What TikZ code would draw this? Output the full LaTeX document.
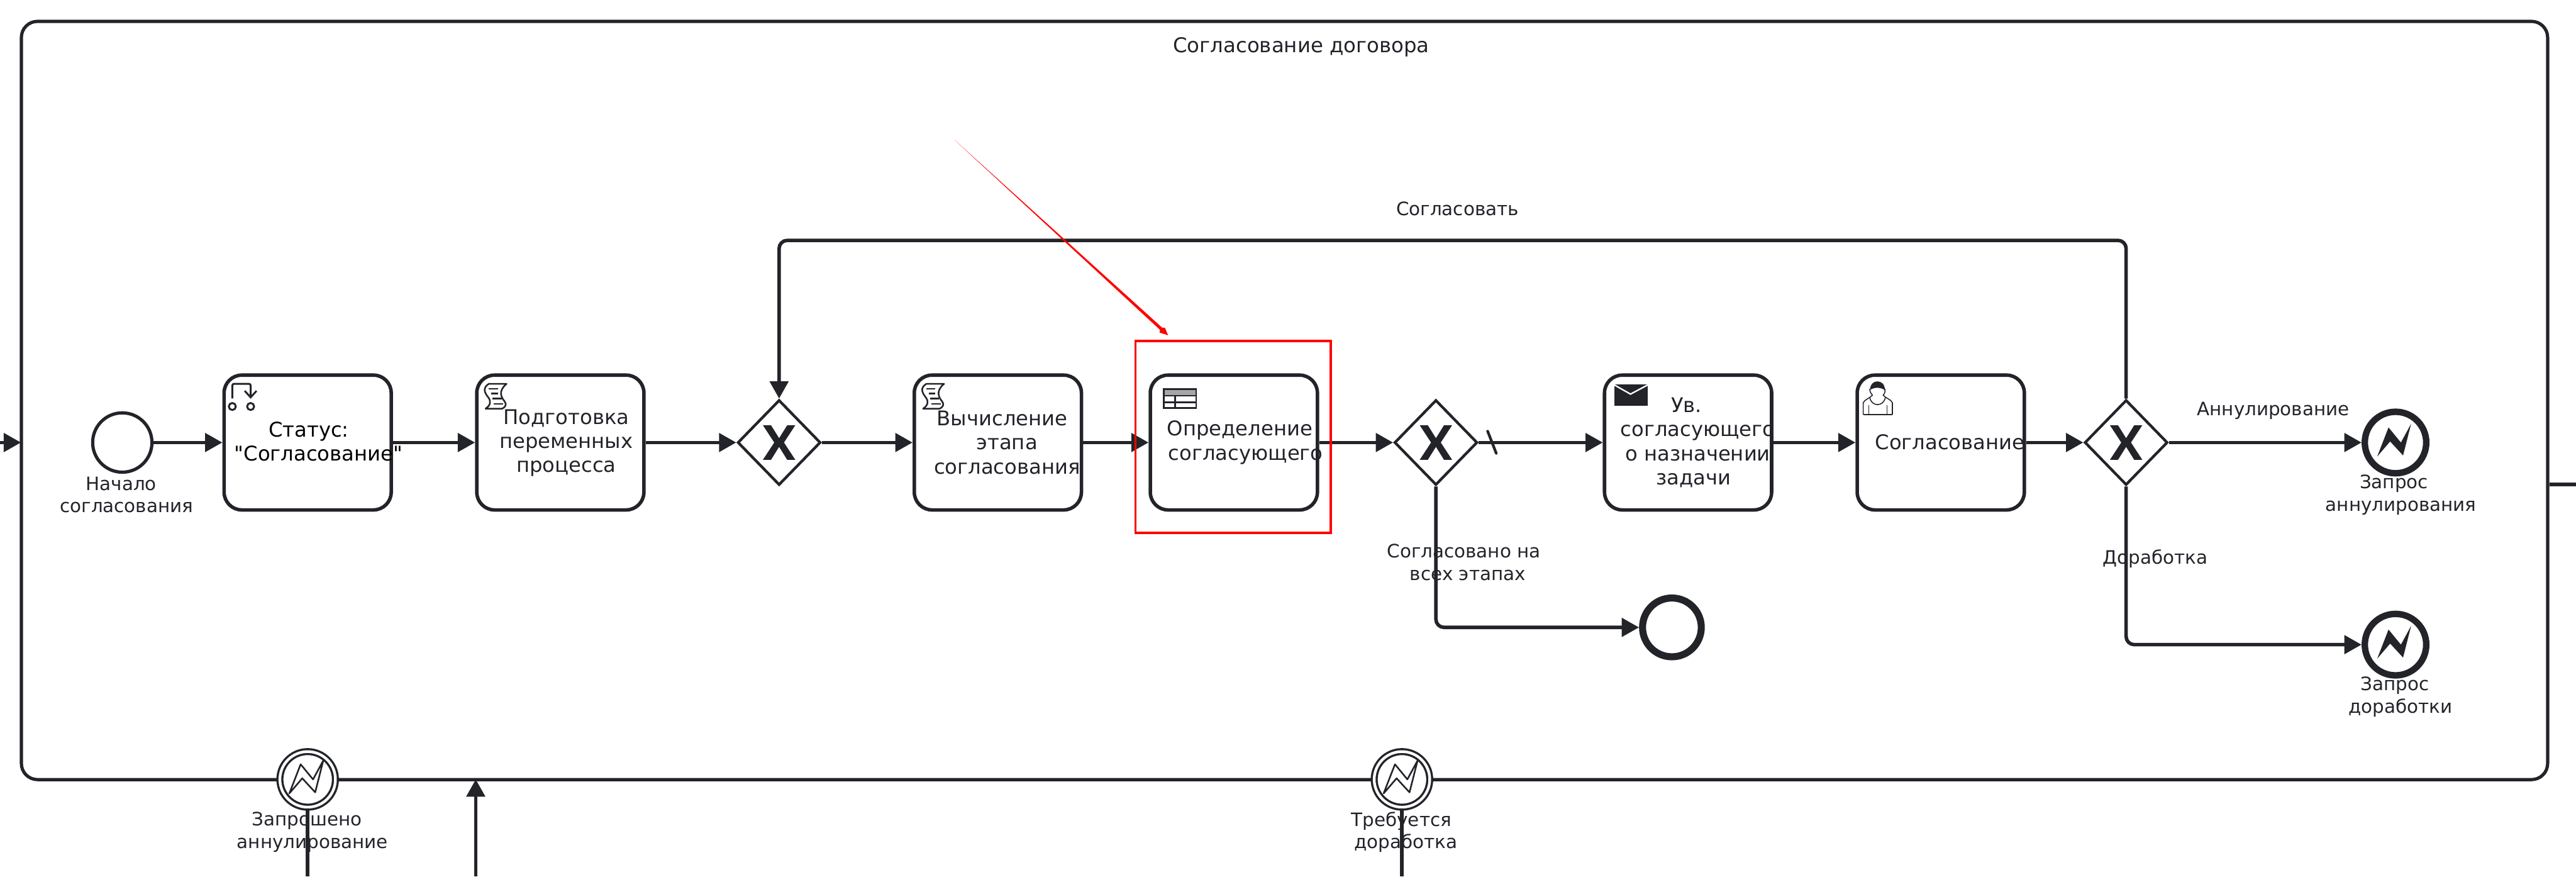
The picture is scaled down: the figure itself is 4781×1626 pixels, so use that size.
\documentclass[tikz,border=0pt]{standalone}
\usepackage{fontspec}
\setmainfont{DejaVu Sans}
\newfontfamily\plainfont{DejaVu Sans}
\usepackage{xcolor}
\usetikzlibrary{arrows.meta, positioning, calc, shapes.geometric}
\definecolor{bpmn}{HTML}{22242A}

\begin{document}
\begin{tikzpicture}[x=0.01cm, y=-0.01cm,
		flow/.style={draw=bpmn, line width=0.065cm, -{Triangle[length=0.32cm,width=0.34cm]}},
		edge/.style={draw=bpmn, line width=0.065cm},
		task/.style={draw=bpmn, line width=0.065cm, rounded corners=0.33cm, inner sep=0, minimum width=3.1cm, minimum height=2.5cm},
		gate/.style={diamond, draw=bpmn, fill=white, line width=0.05cm, inner sep=0, minimum width=1.54cm, minimum height=1.58cm},
		event/.style={circle, draw=bpmn, fill=white, inner sep=0, minimum size=#1},
		catch/.style={circle, draw=bpmn, double=white, double distance=0.05cm, fill=white, line width=0.04cm, inner sep=0, minimum size=1.03cm},
		lbl/.style={text=bpmn, inner sep=0, align=center, font=\fontsize{9.75}{11.8}\selectfont},
		tasklbl/.style={text=bpmn, inner sep=0, align=center, font=\fontsize{10.7}{12.7}\selectfont},
		gatex/.pic={\fill[bpmn] (-30,-32) -- (-15,-32) -- (0,-8) -- (15,-32) -- (30,-32) -- (9,0) -- (30,32) -- (15,32) -- (0,8) -- (-15,32) -- (-30,32) -- (-9,0) -- cycle;},
		bolt/.pic={\path[pic actions] (-34,26) -- (-13,-28) -- (10,0) -- (29,-35) -- (14,24) -- (-10,-2) -- cycle;},
		flagicon/.pic={
			\draw[bpmn, line width=0.035cm] (14,57) circle (6.5) (48,57) circle (6.5);
			\draw[bpmn, line width=0.035cm, rounded corners=0.03cm] (14,42) -- (14,15) -- (48,15) -- (48,40);
			\draw[bpmn, line width=0.035cm] (37,28) -- (48,40) -- (59,28);
		},
		scripticon/.pic={
			\draw[bpmn, line width=0.03cm, line join=round] (21,15) -- (54,15) .. controls (38,28) and (44,40) .. (50,47) .. controls (55,53) and (52,58) .. (46,61) -- (15,61) .. controls (24,55) and (26,48) .. (20,40) .. controls (12,30) and (10,22) .. (21,15) -- cycle;
			\draw[bpmn, line width=0.03cm] (21,24) -- (38,24) (26,33) -- (38,33) (28,42) -- (45,42) (30,52) -- (48,52);
		},
		tableicon/.pic={
			\filldraw[draw=bpmn, fill=black!35, line width=0.03cm] (24,25) rectangle (84,37);
			\draw[bpmn, line width=0.03cm] (24,37) rectangle (84,60) (24,49) -- (84,49) (45,37) -- (45,60);
		},
		mailicon/.pic={
			\fill[bpmn] (17,16) rectangle (79,56);
			\draw[white, line width=0.027cm] (17,17) -- (47,34) -- (79,17);
		},
		usericon/.pic={
			\draw[bpmn, line width=0.018cm] (10,72) -- (10,50) .. controls (12,44) and (22,42) .. (27,36) .. controls (24,32) and (22,30) .. (22,24) (64,72) -- (64,50) .. controls (62,44) and (52,42) .. (47,36) .. controls (50,32) and (51,30) .. (50,24);
			\draw[bpmn, line width=0.018cm] (10,72) -- (64,72) (20,55) -- (20,72) (54,55) -- (54,72);
			\draw[bpmn, line width=0.018cm] (22,40) .. controls (25,58) and (48,58) .. (51,40);
			\fill[bpmn] (23,26) .. controls (21,6) and (51,4) .. (50,27) .. controls (45,22) and (32,20) .. (23,26) -- cycle;
		}]
		\useasboundingbox (0,0) rectangle (4781,1626);
		
		% Row of the tasks
		\def\rowy{821}
		
		% Pool
		\node[draw=bpmn, line width=0.06cm, rounded corners=0.3cm, inner sep=0, minimum width=46.86cm, minimum height=14.06cm] (pool) at (2384,743) {};
		\node[text=bpmn, inner sep=0, font=\fontsize{10.75}{13}\selectfont] (pooltitle) at (2415,87) {Согласование договора};
		
		% Tasks
		\node[event=1.1cm, line width=0.06cm] (start) at (227,\rowy) {};
		\node[task] (status) at (571,\rowy) {};
		\node[task] (prepvars) at (1040,\rowy) {};
		\node[gate] (gwloop) at (1446,\rowy) {};
		\node[task] (calcstage) at (1852,\rowy) {};
		\node[task] (approver) at (2290,\rowy) {};
		\node[gate] (gwdone) at (2665,\rowy) {};
		\node[task] (notify) at (3133,\rowy) {};
		\node[task] (approval) at (3602,\rowy) {};
		\node[gate] (gwresult) at (3946,\rowy) {};
		
		% End events
		\node[event=1.14cm, line width=0.12cm] (reqcancel) at (4446,\rowy) {};
		\node[event=1.14cm, line width=0.12cm] (reqrework) at (4446,1196) {};
		\node[event=1.09cm, line width=0.13cm] (done) at (3103,1164) {};
		
		% Events on the pool border
		\node[catch] (catchcancel) at (571,1446) {};
		\node[catch] (catchrework) at (2602,1446) {};
		
		% Free ends
		\coordinate (inleft) at (0,\rowy);
		\coordinate (inright) at (39,\rowy);
		\coordinate (outright) at (4781,899);
		\coordinate (looptop) at (2702,446);
		\coordinate (cancelout) at (571,1626);
		\coordinate (reworkout) at (2602,1626);
		\coordinate (backin) at (883,1626);
		\coordinate (backtip) at (883,1446);
		\coordinate (slashtop) at (2761,800);
		\coordinate (slashbot) at (2777,841);
		\coordinate (redfrom) at (1771,259);
		\coordinate (redtip) at (2168,622);
		
		% Flows
		\draw[flow] (inleft) -- (inright);
		\draw[flow] (start) -- (status);
		\draw[flow] (status) -- (prepvars);
		\draw[flow] (prepvars) -- (gwloop);
		\draw[flow] (gwloop) -- (calcstage);
		\draw[flow] (calcstage) -- (approver);
		\draw[flow] (approver) -- (gwdone);
		\draw[flow] (gwdone) -- (notify);
		\draw[flow] (notify) -- (approval);
		\draw[flow] (approval) -- (gwresult);
		\draw[flow] (gwresult) -- (reqcancel);
		\draw[flow, rounded corners=0.15cm] (gwresult.south) |- (reqrework);
		\draw[flow, rounded corners=0.15cm] (gwdone.south) |- (done);
		\draw[flow, rounded corners=0.15cm] (gwresult.north) -- (gwresult.north |- looptop) -- (gwloop.north |- looptop) -- (gwloop.north);
		\draw[edge] (outright -| pool.east) -- (outright);
		\draw[edge] (catchcancel.south) -- (cancelout);
		\draw[edge] (catchrework.south) -- (reworkout);
		\draw[flow] (backin) -- (backtip);
		\draw[draw=bpmn, line width=0.05cm, line cap=round] (slashtop) -- (slashbot);
		
		% Gateway marks and icons
		\foreach \gw in {gwloop, gwdone, gwresult} {
			\pic at (\gw) {gatex};
		}
		\pic[fill=bpmn] at (reqcancel) {bolt};
		\pic[fill=bpmn] at (reqrework) {bolt};
		\pic[draw=bpmn, line width=0.03cm, line join=round] at (catchcancel) {bolt};
		\pic[draw=bpmn, line width=0.03cm, line join=round] at (catchrework) {bolt};
		\pic at ([shift={(4.5,4.5)}]status.north west) {flagicon};
		\pic at ([shift={(4.5,4.5)}]prepvars.north west) {scripticon};
		\pic at ([shift={(4.5,4.5)}]calcstage.north west) {scripticon};
		\pic at ([shift={(4.5,4.5)}]approver.north west) {tableicon};
		\pic at ([shift={(4.5,4.5)}]notify.north west) {mailicon};
		\pic at ([shift={(4.5,4.5)}]approval.north west) {usericon};
		
		% Task texts
		\node[tasklbl, text=black] (statustext) at (591,819) {Статус:\hspace*{.36cm}\\{\plainfont"}Согласование{\plainfont"}};
		\node[tasklbl] (preptext) at (1051,822) {Подготовка\\переменных\\процесса};
		\node[tasklbl] (calctext) at (1869,821) {Вычисление\hspace*{.18cm}\\этапа\hspace*{.34cm}\\согласования};
		\node[tasklbl] (approvertext) at (2312,821) {Определение\hspace*{.22cm}\\согласующего};
		\node[tasklbl] (notifytext) at (3151,821) {Ув.\hspace*{.42cm}\\согласующего\\о назначении\\задачи\hspace*{.16cm}};
		\node[tasklbl] (approvaltext) at (3619,820) {Согласование};
		
		% Other labels
		\node[lbl] (starttext) at (235,918) {Начало\hspace*{.2cm}\\согласования};
		\node[lbl] (looptext) at (2705,387) {Согласовать};
		\node[lbl] (donetext) at (2717,1043) {Согласовано на\\\hspace*{.14cm}всех этапах};
		\node[lbl] (canceltext) at (4219,762) {Аннулирование};
		\node[lbl] (reworktext) at (4000,1037) {Доработка};
		\node[lbl] (reqcanceltext) at (4456,918) {Запрос\hspace*{.26cm}\\аннулирования};
		\node[lbl] (reqreworktext) at (4455,1293) {Запрос\hspace*{.2cm}\\доработки};
		\node[lbl] (catchcanceltext) at (580,1544) {Запрошено\hspace*{.2cm}\\аннулирование};
		\node[lbl] (catchreworktext) at (2609,1544) {Требуется\hspace*{.16cm}\\доработка};
		
		% Highlight
		\node[draw=red, line width=0.04cm, inner sep=0, minimum width=3.62cm, minimum height=3.56cm] (hilite) at (2288.5,810.5) {};
		\fill[red] (redfrom) -- (2153,612) -- (2152,617) -- (redtip) -- (2162,608) -- (2157,608) -- cycle;
	\end{tikzpicture}
\end{document}
